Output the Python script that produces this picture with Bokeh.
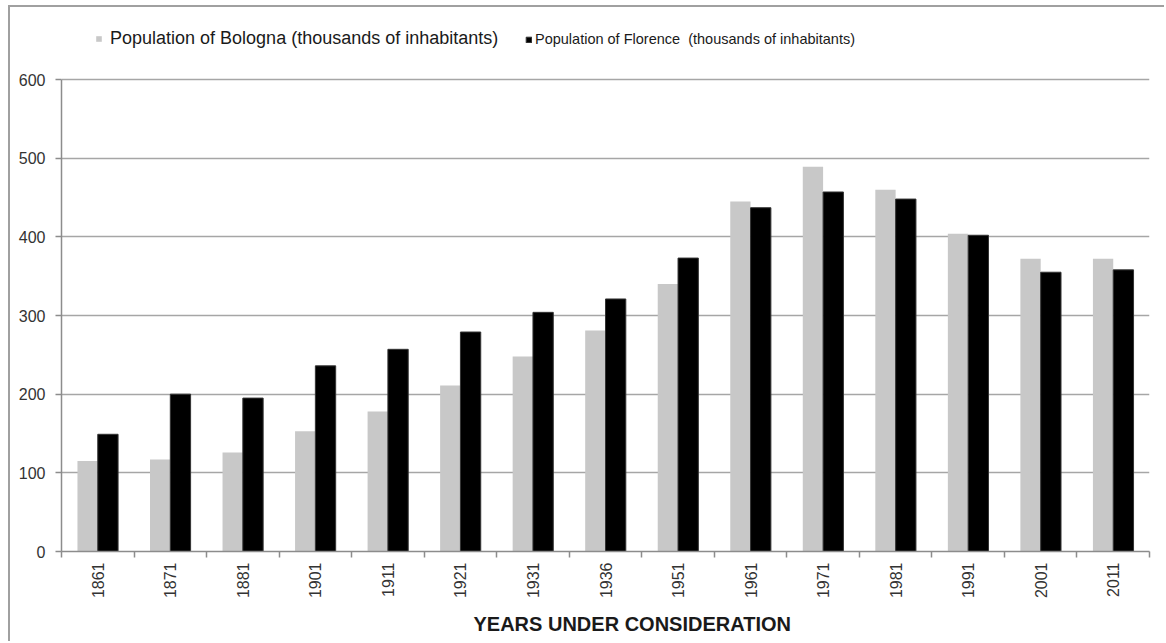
import numpy as np
from math import pi
from bokeh.plotting import figure
from bokeh.models import Range1d, FixedTicker, Legend, LegendItem, Title
from bokeh.embed import file_html
from bokeh.resources import INLINE

years = ["1861", "1871", "1881", "1901", "1911", "1921", "1931", "1936",
         "1951", "1961", "1971", "1981", "1991", "2001", "2011"]
bologna = [115, 117, 126, 153, 178, 211, 248, 281, 340, 445, 489, 460, 404, 372, 372]
florence = [149, 200, 195, 236, 257, 279, 304, 321, 373, 437, 457, 448, 402, 355, 358]
y_ticks = [0, 100, 200, 300, 400, 500, 600]
label_bologna = "Population of Bologna (thousands of inhabitants)"
label_florence = "Population of Florence  (thousands of inhabitants)"
x_title = "YEARS UNDER CONSIDERATION"

FONT = "Liberation Sans"
n = len(years)
idx = np.arange(n)
centers = idx + 0.5
bar_w = 0.28

p = figure(width=1156, height=636, output_backend="svg", toolbar_location=None,
           x_range=Range1d(0, n), y_range=Range1d(0, 675),
           min_border_left=51, min_border_right=17, min_border_top=13, min_border_bottom=92)
p.outline_line_color = None
p.styles = {"border-left": "2px solid #a0a0a0", "border-top": "2px solid #a0a0a0",
            "margin-left": "8px", "margin-top": "5px"}

r1 = p.vbar(x=centers - bar_w / 2, top=bologna, width=bar_w, bottom=0,
            fill_color="#c8c8c8", line_color=None)
r2 = p.vbar(x=centers + bar_w / 2, top=florence, width=bar_w, bottom=0,
            fill_color="#000000", line_color="#333333", line_width=1)

# x axis
p.xaxis.ticker = FixedTicker(ticks=list(centers), minor_ticks=list(range(n + 1)))
p.xaxis.major_label_overrides = {float(c): y for c, y in zip(centers, years)}
p.xaxis.major_tick_out = 0
p.xaxis.major_tick_in = 0
p.xaxis.minor_tick_out = 6
p.xaxis.minor_tick_in = 0
p.xaxis.minor_tick_line_color = "#8c8c8c"
p.xaxis.minor_tick_line_width = 1.5
p.xaxis.major_label_orientation = pi / 2
p.xaxis.major_label_standoff = 5
p.xaxis.axis_line_color = "#8c8c8c"
p.xaxis.axis_line_width = 1.5

# y axis
p.yaxis.ticker = FixedTicker(ticks=y_ticks)
p.yaxis.bounds = (0, 600)
p.yaxis.minor_tick_line_color = None
p.yaxis.major_tick_out = 6
p.yaxis.major_tick_in = 0
p.yaxis.major_tick_line_color = "#8c8c8c"
p.yaxis.major_tick_line_width = 1.5
p.yaxis.major_label_standoff = 10
p.yaxis.axis_line_color = "#8c8c8c"
p.yaxis.axis_line_width = 1.5

for ax in (p.xaxis, p.yaxis):
    ax.major_label_text_font = FONT
    ax.major_label_text_font_size = "16px"
    ax.major_label_text_color = "#333333"

p.xgrid.grid_line_color = None
p.ygrid.grid_line_color = "#a6a6a6"
p.ygrid.grid_line_width = 1.5

common = dict(orientation="horizontal", glyph_width=7, glyph_height=7,
              padding=0, margin=0, border_line_color=None, background_fill_alpha=0,
              label_text_font=FONT, label_text_color="#1a1a1a")
legend1 = Legend(items=[LegendItem(label=label_bologna, renderers=[r1])],
                 location=(34, 502), label_standoff=8,
                 label_text_font_size="18px", **common)
legend2 = Legend(items=[LegendItem(label=label_florence, renderers=[r2])],
                 location=(464, 504), label_standoff=3,
                 label_text_font_size="14.5px", **common)
p.add_layout(legend1, "center")
p.add_layout(legend2, "center")

t = Title(text=x_title, align="left", offset=412, standoff=18,
          text_font=FONT, text_font_size="20px", text_font_style="bold",
          text_color="#1a1a1a")
p.add_layout(t, "below")

open("out.html", "w").write(file_html(p, INLINE))
